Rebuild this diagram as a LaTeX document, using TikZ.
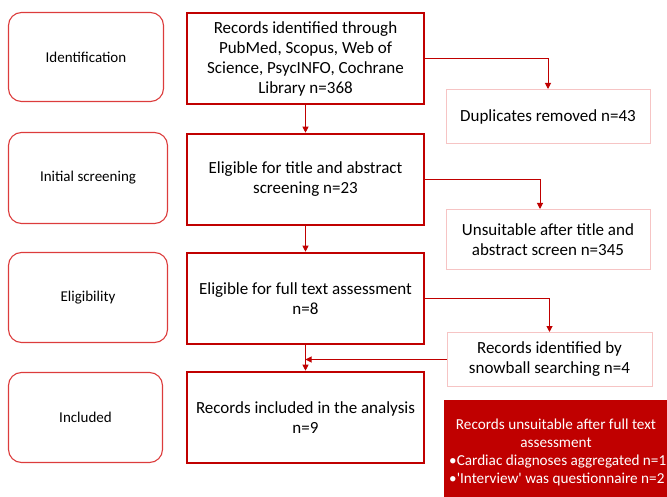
\documentclass[tikz,border=0pt]{standalone}
\usepackage{fontspec}
\setmainfont{Carlito}
\usetikzlibrary{arrows.meta,calc}

\definecolor{darkred}{HTML}{C00000}
\definecolor{stagered}{HTML}{DC3C3C}
\definecolor{palered}{HTML}{F6C4C4}

\tikzset{
  stage/.style={draw=stagered, line width=1.1pt, rounded corners=13pt, align=center,
    font=\fontsize{15}{20}\selectfont},
  record/.style={draw=darkred, line width=2.6pt, minimum width=237pt, minimum height=91pt,
    align=center, font=\fontsize{17}{20}\selectfont},
  side/.style={draw=palered, line width=1pt, minimum width=204pt, align=center,
    font=\fontsize{17}{20}\selectfont},
  exclude/.style={text=white, font=\fontsize{15.2}{17.8}\selectfont, inner sep=0pt},
  flow/.style={darkred, line width=1pt, -{Triangle[width=6pt,length=6pt]}},
}

\begin{document}
\begin{tikzpicture}[x=1pt,y=-1pt]
\useasboundingbox (0,0) rectangle (667,497);
% stages on the left
\node[stage, minimum width=155pt, minimum height=89pt] (ident) at (86,57) {Identification};
\node[stage, minimum width=159pt, minimum height=91pt] (screen) at (88,178) {Initial screening};
\node[stage, minimum width=159pt, minimum height=90pt] (elig) at (88,297.5) {Eligibility};
\node[stage, minimum width=154pt, minimum height=90pt] (incl) at (85.5,417.5) {Included};
% main records
\node[record] (found) at (305.5,58.5) {Records identified through\\PubMed, Scopus, Web of\\Science, PsycINFO, Cochrane\\Library n=368};
\node[record] (title) at (305.5,179.5) {Eligible for title and abstract\\screening n=23};
\node[record] (full) at (305.5,298.5) {Eligible for full text assessment\\n=8};
\node[record] (analysis) at (305.5,417.5) {Records included in the analysis\\n=9};
% removed and added
\node[side, minimum height=54pt] (dupl) at (548,116.5) {Duplicates removed n=43};
\node[side, minimum height=60pt] (unsuit) at (548,239.5) {Unsuitable after title and\\abstract screen n=345};
\node[side, minimum height=54pt, minimum width=205pt] (snow) at (549.5,359.5) {Records identified by\\snowball searching n=4};
\node[fill=darkred, minimum width=223pt, minimum height=97pt, inner sep=0pt] (excl) at (555.5,448.5) {};
\node[exclude, align=center] (excltop) at (556,433.5)
  {Records unsuitable after full text\\assessment};
\node[exclude, align=left, anchor=base west] (exclist) at (449,483)
  {\textbullet Cardiac diagnoses aggregated n=1\\\textbullet\textquotesingle Interview\textquotesingle{} was questionnaire n=2};
\coordinate (unsuitin) at ($(unsuit.north)+(-8,0)$);
% arrows
\draw[flow] (found) -- (title);
\draw[flow] (title) -- (full);
\draw[flow] (full) -- (analysis);
\draw[flow] (found.east) -| (dupl.north);
\draw[flow] (title.east) -| (unsuitin);
\draw[flow] (full.east) -| (snow.north);
\draw[flow] (snow.west) -- (snow.west -| full.south);
\end{tikzpicture}
\end{document}
